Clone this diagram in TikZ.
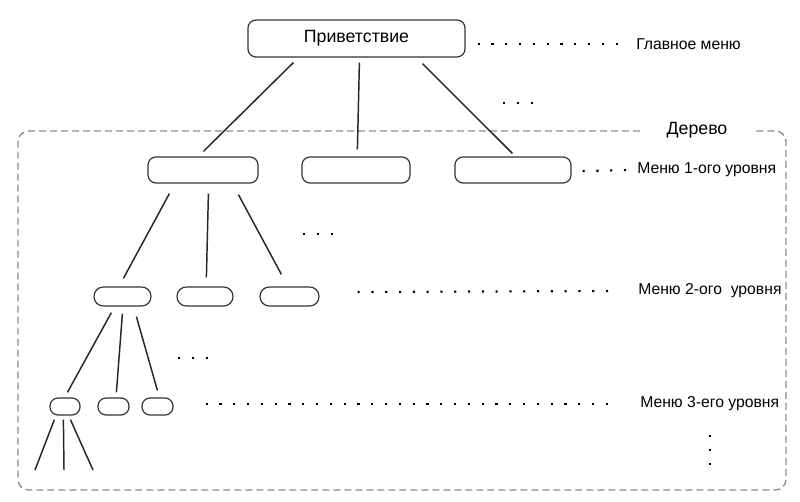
\documentclass[tikz,border=0pt]{standalone}
\usepackage{fontspec}
\setmainfont{Liberation Sans}
\usetikzlibrary{calc}
\begin{document}
\begin{tikzpicture}[x=0.75pt,y=-0.75pt,
  box/.style={draw=black!80, line width=0.9pt, rounded corners=6pt, inner sep=0pt, anchor=center},
  l1box/.style={box, minimum height=19.5pt},
  l2box/.style={box, minimum height=14.25pt, rounded corners=7pt},
  l3box/.style={box, minimum height=12.75pt, rounded corners=6pt},
  edge/.style={draw=black!85, line width=1.1pt},
  dotline/.style={draw=black, line width=1.6pt, dash pattern=on 1.6pt off 8.75pt},
  frame/.style={draw=black!45, line width=1pt, dash pattern=on 5.25pt off 3pt, rounded corners=8pt},
  lab/.style={anchor=west, inner sep=0pt, font=\fontsize{11.8}{13}\selectfont}
]
\useasboundingbox (0,0) rectangle (800,502);

% dashed frame
\draw[frame] (640,131) -- (18,131) -- (18,490) -- (786,490) -- (786,131) -- (756,131);
\node[inner sep=0pt, font=\fontsize{13.3}{15}\selectfont] (tree) at (697,130) {Дерево};

% boxes
\node[box, minimum width=162.75pt, minimum height=27.75pt, font=\fontsize{13.3}{15}\selectfont] (main) at (356.5,38.5) {Приветствие};
\node[l1box, minimum width=82.5pt] (l1a) at (203,170) {};
\node[l1box, minimum width=81pt] (l1b) at (356,170) {};
\node[l1box, minimum width=87pt] (l1c) at (513,170) {};
\node[l2box, minimum width=42.75pt] (l2a) at (122.5,296.5) {};
\node[l2box, minimum width=42pt] (l2b) at (205,296.5) {};
\node[l2box, minimum width=44.25pt] (l2c) at (289.5,296.5) {};
\node[l3box, minimum width=22.5pt] (l3a) at (65,406.5) {};
\node[l3box, minimum width=23.25pt] (l3b) at (113.5,406.5) {};
\node[l3box, minimum width=23.25pt] (l3c) at (157.5,406.5) {};

% labels
\node[lab] (lab0) at (636,44) {Главное меню};
\node[lab] (lab1) at (637,170) {Меню 1-ого уровня};
\node[lab] (lab2) at (638,291) {Меню 2-ого\ \ уровня};
\node[lab] (lab3) at (640,404) {Меню 3-его уровня};

% edges
\draw[edge] ($(main.south west)+(46,5)$) -- ($(l1a.north west)+(56,-5)$);
\draw[edge] ($(main.south west)+(112,5)$) -- ($(l1b.north west)+(56,-7)$);
\draw[edge] ($(main.south west)+(175,6)$) -- ($(l1c.north west)+(58,-3)$);
\draw[edge] ($(l1a.south west)+(22,10)$) -- ($(l2a.north west)+(30,-8)$);
\draw[edge] ($(l1a.south west)+(61,10)$) -- ($(l2b.north west)+(30,-9)$);
\draw[edge] ($(l1a.south west)+(91,11)$) -- ($(l2c.north west)+(22,-12)$);
\draw[edge] ($(l2a.south west)+(18,6)$) -- ($(l3a.north west)+(18,-5)$);
\draw[edge] ($(l2a.south west)+(29,7)$) -- ($(l3b.north west)+(19,-5)$);
\draw[edge] ($(l2a.south west)+(43,10)$) -- ($(l3c.north west)+(16,-7)$);
\coordinate (e1) at (35,470);
\coordinate (e2) at (64,470);
\coordinate (e3) at (93,470);
\draw[edge] ($(l3a.south west)+(5,4)$) -- (e1);
\draw[edge] ($(l3a.south west)+(14,4)$) -- (e2);
\draw[edge] ($(l3a.south west)+(21,4)$) -- (e3);

% dotted leaders
\draw[dotline] ($(main.east)+(12,5.5)$) -- ($(lab0.west)+(-12,0)$);
\draw[dotline] ($(l1c.east)+(11,1)$) -- ($(lab1.west)+(-5,0)$);
\draw[dotline] ($(l2c.east)+(38,-4.5)$) -- ($(lab2.west)+(-24,0)$);
\draw[dotline] ($(l3c.east)+(32,-2.5)$) -- ($(lab3.west)+(-31,0)$);

% ellipses
\draw[dotline] (503,103) -- (534,103);
\draw[dotline] (303,234) -- (334,234);
\draw[dotline] (178,358) -- (209,358);
\draw[dotline] (710,435) -- (710,465);
\end{tikzpicture}
\end{document}
